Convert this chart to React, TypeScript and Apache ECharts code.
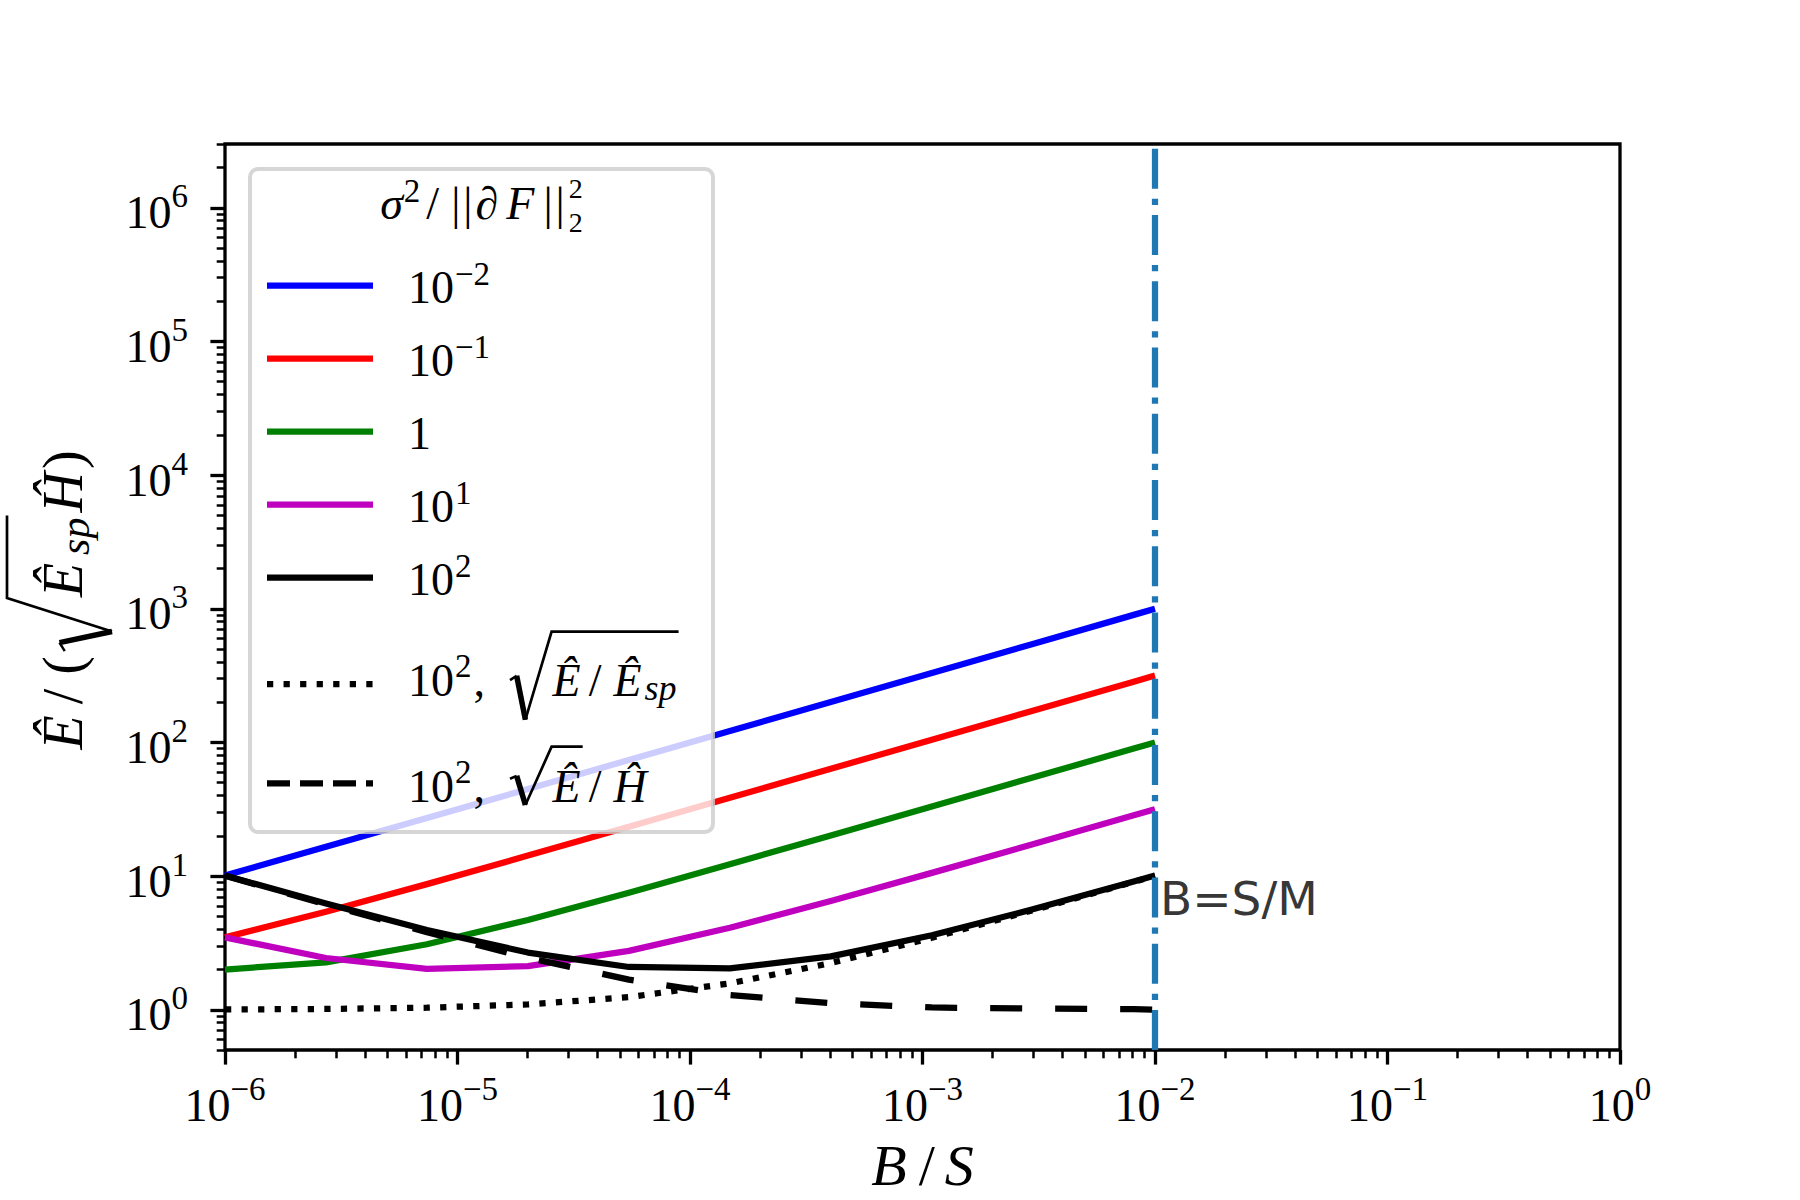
import { useEffect, useRef } from 'react';
import * as echarts from 'echarts';

// ---- data ----
const batchOverSample = [1e-6, 2.718e-6, 7.389e-6, 2.009e-5, 5.46e-5, 1.484e-4, 4.034e-4, 1.097e-3, 2.981e-3, 8.103e-3, 1e-2];
const noiseRatio1em2 = [10.1, 16.55, 27.22, 44.84, 73.9, 121.8, 200.9, 331.2, 546.0, 900.2, 1000];
const noiseRatio1em1 = [3.48, 5.41, 8.71, 14.24, 23.41, 38.55, 63.53, 104.7, 172.7, 284.7, 316.3];
const noiseRatio1 = [2.0, 2.26, 3.09, 4.7, 7.52, 12.26, 20.14, 33.15, 54.62, 90.03, 100.0];
const noiseRatio1e1 = [3.48, 2.44, 2.02, 2.12, 2.76, 4.11, 6.51, 10.57, 17.32, 28.5, 31.65];
const noiseRatio1e2 = [10.1, 6.23, 3.95, 2.68, 2.09, 2.04, 2.51, 3.61, 5.64, 9.11, 10.1];
const noiseRatio1e2Esp = [1.005, 1.014, 1.036, 1.096, 1.243, 1.576, 2.235, 3.459, 5.551, 9.057, 10.05];
const noiseRatio1e2H = [10.05, 6.15, 3.81, 2.45, 1.68, 1.29, 1.12, 1.04, 1.02, 1.01, 1.0];

const xTickValues = [1e-6, 1e-5, 1e-4, 1e-3, 1e-2, 1e-1, 1];
const yTickValues = [1, 10, 100, 1e3, 1e4, 1e5, 1e6];
const xRange = [1e-6, 1];
const yRange = [0.5, 3e6];
const criticalBatch = 0.01; // B = S/M
const annotationY = 5;
const annotationText = 'B=S/M';
const legendExponents = ['−2', '−1', '', '1', '2'];

// ---- styling ----
const SERIF = '"Liberation Serif", "DejaVu Serif", serif';
const LW = 6.25;
const SUP = 33;
const colors = ['#0000ff', '#ff0000', '#008000', '#bf00bf', '#000000'];

function minorTicks(lo: number, hi: number) {
  const out: number[] = [];
  for (let e = -7; e <= 7; e++) {
    for (let k = 2; k <= 9; k++) {
      const v = parseFloat((k * Math.pow(10, e)).toPrecision(6));
      if (v >= lo * 0.9999 && v <= hi * 1.0001) out.push(v);
    }
  }
  return out;
}

let mctx: CanvasRenderingContext2D | null = null;
function fontStr(s: number, it?: boolean) {
  return `${it ? 'italic ' : ''}${s}px ${SERIF}`;
}
function measure(t: string, s: number, it?: boolean) {
  if (!mctx) mctx = document.createElement('canvas').getContext('2d');
  mctx!.font = fontStr(s, it);
  return mctx!.measureText(t).width;
}

function typeset(toks: any[]) {
  const els: any[] = [];
  let x = 0;
  const stack: any[] = [];
  for (const k of toks) {
    if (k.open) {
      stack.push({ x, w: k.w, top: k.top, bot: k.bot });
      x += k.w + 1;
      continue;
    }
    if (k.close) {
      const r = stack.pop();
      const end = x + 2;
      const H = r.top - r.bot;
      const hookV = r.bot + 0.45 * H;
      const p0 = [r.x, -hookV];
      const p1 = [r.x + 0.16 * r.w, -hookV - 0.05 * H];
      const p2 = [r.x + 0.37 * r.w, -r.bot];
      const p3 = [r.x + r.w, -r.top];
      const p4 = [end, -r.top];
      els.push({ type: 'line', shape: { x1: p0[0], y1: p0[1], x2: p1[0], y2: p1[1] }, style: { stroke: '#000', lineWidth: 2.5 } });
      els.push({ type: 'line', shape: { x1: p1[0], y1: p1[1], x2: p2[0], y2: p2[1] }, style: { stroke: '#000', lineWidth: 5.5 } });
      els.push({ type: 'polyline', shape: { points: [p2, p3, p4] }, style: { stroke: '#000', lineWidth: 2.7, fill: null } });
      x = end + (k.pad ?? 4);
      continue;
    }
    const w = measure(k.t, k.s, k.it);
    els.push({
      type: 'text',
      style: {
        text: k.t,
        x,
        y: -(k.up || 0) - 0.34 * k.s,
        font: fontStr(k.s, k.it),
        lineHeight: k.s,
        fill: '#000',
        align: 'left',
        verticalAlign: 'middle',
        textAlign: 'left',
        textVerticalAlign: 'middle',
      },
    });
    if (!k.keep) x += w + (k.pad || 0);
  }
  els.forEach((e) => {
    e.z = 100;
    e.silent = true;
  });
  return { els, width: x };
}

function buildGraphics() {
  const g: any[] = [];
  // legend frame
  g.push({
    type: 'rect',
    z: 90,
    silent: true,
    shape: { x: 250, y: 169, width: 463, height: 663, r: 8 },
    style: { fill: 'rgba(255,255,255,0.8)', stroke: 'rgba(204,204,204,0.8)', lineWidth: 4 },
  });
  // legend title: sigma^2 / ||dF||_2^2
  const title = typeset([
    { t: 'σ', s: 46, it: true, pad: 1 },
    { t: '2', s: SUP, up: 17, pad: 6 },
    { t: '/', s: 46, pad: 12 },
    { t: '|', s: 46, pad: 3 },
    { t: '|', s: 46, pad: 3 },
    { t: '∂', s: 46, pad: 8 },
    { t: 'F', s: 46, it: true, pad: 9 },
    { t: '|', s: 46, pad: 3 },
    { t: '|', s: 46, pad: 4 },
    { t: '2', s: 28, up: 21, keep: true },
    { t: '2', s: 28, up: -13 },
  ]);
  g.push({ type: 'group', x: 481.5 - title.width / 2, y: 219.3, children: title.els });

  const rowLineY = [285.7, 358.7, 431.7, 504.7, 577.7, 684, 783.3];
  const rowBase = [303.3, 376.3, 449.3, 522.3, 595.3, 695.7, 801.7];
  const dashes: any[] = [null, null, null, null, null, [6.25, 10.3], [23, 10]];
  for (let i = 0; i < 7; i++) {
    g.push({
      type: 'line',
      z: 100,
      silent: true,
      shape: { x1: 267, y1: rowLineY[i], x2: 373, y2: rowLineY[i] },
      style: { stroke: i < 5 ? colors[i] : '#000', lineWidth: LW, lineDash: dashes[i], lineCap: 'butt' },
    });
  }
  for (let i = 0; i < 5; i++) {
    const toks: any[] = legendExponents[i] === '' ? [{ t: '1', s: 46 }] : [{ t: '10', s: 46, pad: 1 }, { t: legendExponents[i], s: SUP, up: 18 }];
    const r = typeset(toks);
    g.push({ type: 'group', x: 408, y: rowBase[i], children: r.els });
  }
  const e6 = typeset([
    { t: '10', s: 46, pad: 1 },
    { t: '2', s: SUP, up: 18, pad: 2 },
    { t: ',', s: 46, pad: 25 },
    { open: true, w: 41.6, top: 64, bot: -24 },
    { t: 'Ê', s: 46, it: true, pad: 8 },
    { t: '/', s: 46, pad: 12 },
    { t: 'Ê', s: 46, it: true, pad: 3 },
    { t: 'sp', s: 36, it: true, up: -5 },
    { close: true },
  ]);
  g.push({ type: 'group', x: 408, y: rowBase[5], children: e6.els });
  const e7 = typeset([
    { t: '10', s: 46, pad: 1 },
    { t: '2', s: SUP, up: 18, pad: 2 },
    { t: ',', s: 46, pad: 25 },
    { open: true, w: 41.6, top: 55, bot: -3.3 },
    { t: 'Ê', s: 46, it: true },
    { close: true, pad: 6 },
    { t: '/', s: 46, pad: 12 },
    { t: 'Ĥ', s: 46, it: true },
  ]);
  g.push({ type: 'group', x: 408, y: rowBase[6], children: e7.els });

  // x-axis title
  const xt = typeset([
    { t: 'B', s: 58, it: true, pad: 12 },
    { t: '/', s: 58, pad: 10 },
    { t: 'S', s: 58, it: true },
  ]);
  g.push({ type: 'group', x: 922.5 - xt.width / 2, y: 1185, children: xt.els });

  // y-axis title (rotated)
  const yt = typeset([
    { t: 'Ê', s: 56, it: true, pad: 11 },
    { t: '/', s: 56, pad: 14 },
    { t: '(', s: 56, pad: 5 },
    { open: true, w: 53, top: 75, bot: -30 },
    { t: 'Ê', s: 56, it: true, pad: 8 },
    { t: 'sp', s: 42, it: true, up: -7 },
    { close: true, pad: 3 },
    { t: 'Ĥ', s: 56, it: true, pad: 3 },
    { t: ')', s: 56 },
  ]);
  g.push({ type: 'group', x: 82, y: 600 + yt.width / 2, rotation: Math.PI / 2, children: yt.els });
  return g;
}

const richLabel = {
  b: { fontFamily: SERIF, fontSize: 46, lineHeight: 56, verticalAlign: 'bottom', color: '#000' },
  s: { fontFamily: SERIF, fontSize: SUP, lineHeight: SUP, verticalAlign: 'top', color: '#000' },
};
function powLabel(v: number) {
  const e = Math.round(Math.log10(v));
  return `{b|10}{s|${e < 0 ? '−' + -e : e}}`;
}

function majorAxis(range: number[], ticks: number[], margin: number, pos: string) {
  return {
    type: 'log',
    logBase: 10,
    min: range[0],
    max: range[1],
    position: pos,
    axisLine: { show: false },
    splitLine: { show: false },
    minorTick: { show: false },
    minorSplitLine: { show: false },
    axisTick: { show: true, inside: false, customValues: ticks, length: 14.6, lineStyle: { color: '#000', width: 3.3 } },
    axisLabel: { show: true, customValues: ticks, formatter: powLabel, rich: richLabel, margin, color: '#000' },
  };
}
function minorAxis(range: number[], pos: string) {
  return {
    type: 'log',
    logBase: 10,
    min: range[0],
    max: range[1],
    position: pos,
    axisLine: { show: false },
    splitLine: { show: false },
    axisLabel: { show: false },
    axisTick: { show: true, inside: false, customValues: minorTicks(range[0], range[1]), length: 8.3, lineStyle: { color: '#000', width: 2.5 } },
  };
}

const pairs = (ys: number[]) => batchOverSample.map((x, i) => [x, ys[i]]);

export default function App() {
  const ref = useRef<HTMLDivElement>(null);
  useEffect(() => {
    if (!ref.current) return;
    const chart = echarts.init(ref.current, null, { renderer: 'svg' });
    const solid = [noiseRatio1em2, noiseRatio1em1, noiseRatio1, noiseRatio1e1, noiseRatio1e2];
    const series: any[] = solid.map((ys, i) => ({
      type: 'line',
      data: pairs(ys),
      symbol: 'none',
      silent: true,
      lineStyle: { color: colors[i], width: LW, cap: 'butt', join: 'round' },
    }));
    series.push({
      type: 'line',
      data: pairs(noiseRatio1e2Esp),
      symbol: 'none',
      silent: true,
      lineStyle: { color: '#000', width: LW, type: [6.25, 10.3], cap: 'butt' },
    });
    series.push({
      type: 'line',
      data: pairs(noiseRatio1e2H),
      symbol: 'none',
      silent: true,
      lineStyle: { color: '#000', width: LW, type: [32, 33], cap: 'butt' },
    });
    series.push({
      type: 'line',
      data: [
        [criticalBatch, yRange[0]],
        [criticalBatch, yRange[1]],
      ],
      symbol: 'none',
      silent: true,
      lineStyle: { color: '#1f77b4', width: LW, type: [40, 10, 6.25, 10], cap: 'butt' },
    });
    series.push({
      type: 'scatter',
      data: [[criticalBatch, annotationY]],
      symbolSize: 2,
      silent: true,
      itemStyle: { color: 'rgba(0,0,0,0)' },
      label: {
        show: true,
        formatter: annotationText,
        position: [6, -16.5],
        align: 'left',
        verticalAlign: 'middle',
        fontFamily: '"DejaVu Sans"',
        fontSize: 47,
        color: '#000',
      },
    });
    chart.setOption({
      animation: false,
      backgroundColor: '#ffffff',
      grid: {
        left: 225,
        top: 144,
        width: 1395,
        height: 906,
        show: true,
        borderColor: '#000',
        borderWidth: 3.3,
        backgroundColor: 'transparent',
        containLabel: false,
        outerBoundsMode: 'none',
      },
      xAxis: [majorAxis(xRange, xTickValues, 22, 'bottom'), minorAxis(xRange, 'bottom')],
      yAxis: [majorAxis(yRange, yTickValues, 37, 'left'), minorAxis(yRange, 'left')],
      series,
      graphic: buildGraphics(),
    });
    return () => chart.dispose();
  }, []);
  return (
    <div
      ref={ref}
      style={{ position: 'fixed', left: 0, top: 0, width: 1800, height: 1200, background: '#fff' }}
    />
  );
}
